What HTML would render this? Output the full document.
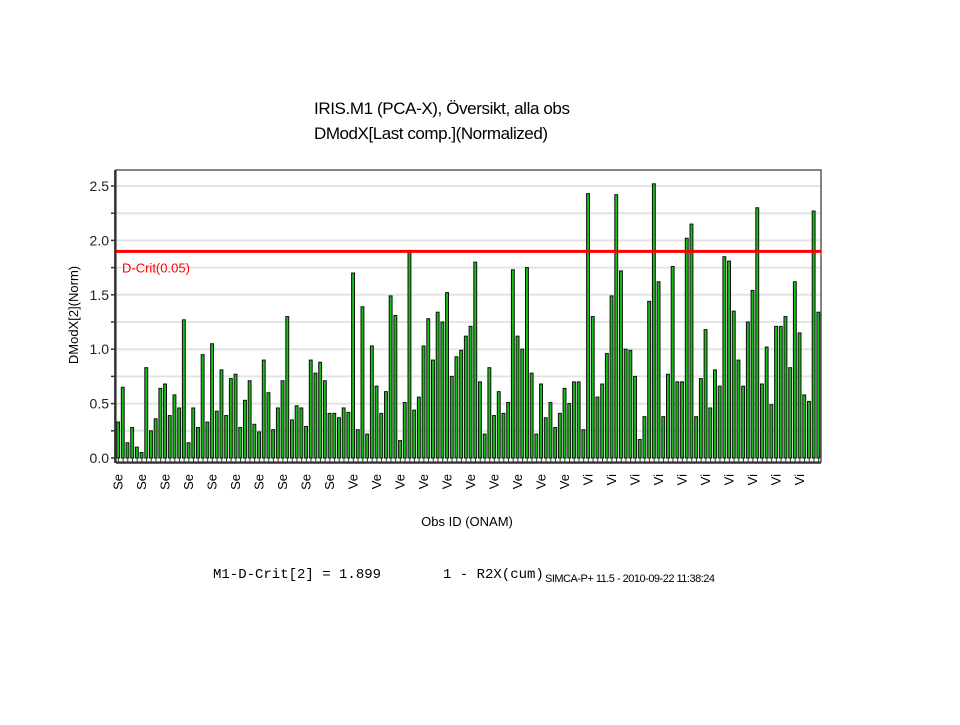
<!DOCTYPE html>
<html><head><meta charset="utf-8"><style>
body{margin:0;background:#fff;width:960px;height:720px;overflow:hidden;font-family:"Liberation Sans",Arial,sans-serif}
</style></head><body>
<svg width="960" height="720" xmlns="http://www.w3.org/2000/svg">
<text x="314" y="114" font-size="17" font-family="Liberation Sans, sans-serif" textLength="256">IRIS.M1 (PCA-X), Översikt, alla obs</text>
<text x="314" y="139" font-size="17" font-family="Liberation Sans, sans-serif" textLength="234">DModX[Last comp.](Normalized)</text>
<g id="grid"></g>
<g id="bars"></g>
<g id="axes"></g>
<text transform="translate(78,315) rotate(-90)" text-anchor="middle" font-size="13">DModX[2](Norm)</text>
<text x="467" y="526" text-anchor="middle" font-size="13">Obs ID (ONAM)</text>
<text x="213" y="578" font-size="14" font-family="Liberation Mono, monospace">M1-D-Crit[2] = 1.899</text>
<text x="443" y="578" font-size="14" font-family="Liberation Mono, monospace">1 - R2X(cum)</text>
<text x="545" y="582" font-size="11" font-family="Liberation Sans, sans-serif" letter-spacing="-0.5">SIMCA-P+ 11.5 - 2010-09-22 11:38:24</text>
</svg>
<script>
const values=[0.33,0.65,0.14,0.28,0.1,0.05,0.83,0.25,0.36,0.64,0.68,0.39,0.58,0.46,1.27,0.14,0.46,0.28,0.95,0.33,1.05,0.43,0.81,0.39,0.73,0.77,0.28,0.53,0.71,0.31,0.24,0.9,0.6,0.26,0.46,0.71,1.3,
0.35,0.48,0.46,0.29,0.9,0.78,0.88,0.71,0.41,0.41,0.37,0.46,0.42,1.7,0.26,1.39,0.22,1.03,0.66,0.41,0.61,1.49,1.31,0.16,0.51,1.89,0.44,0.56,1.03,1.28,0.9,1.34,1.25,1.52,0.75,0.93,0.99,1.12,
1.21,1.8,0.7,0.22,0.83,0.39,0.61,0.41,0.51,1.73,1.12,1.0,1.75,0.78,0.22,0.68,0.37,0.51,0.28,0.41,0.64,0.5,0.7,0.7,0.26,2.43,1.3,0.56,0.68,0.96,1.49,2.42,1.72,1.0,0.99,0.75,0.17,
0.38,1.44,2.52,1.62,0.38,0.77,1.76,0.7,0.7,2.02,2.15,0.38,0.73,1.18,0.46,0.81,0.66,1.85,1.81,1.35,0.9,0.66,1.25,1.54,2.3,0.68,1.02,0.49,1.21,1.21,1.3,0.83,1.62,1.15,0.58,0.52,2.27,1.34];
const yTicks=["0.0","0.5","1.0","1.5","2.0","2.5"];
const dcrit=1.899;
const dcritLabel="D-Crit(0.05)";
const NS="http://www.w3.org/2000/svg";
const L=116,R=821,T=170,Y0=458,UNIT=108.8;
const y=v=>Y0-v*UNIT;
const N=values.length, bw=(R-L)/N;
const x=i=>L+i*bw;
function mk(tag,attrs,parent){const e=document.createElementNS(NS,tag);for(const k in attrs)e.setAttribute(k,attrs[k]);document.getElementById(parent).appendChild(e);return e;}
for(let k=1;k<=10;k++){const g=mk('line',{x1:L,x2:R,y1:y(k*0.25),y2:y(k*0.25),stroke:'#e4e4e4','stroke-width':2},'grid');

}
values.forEach((v,i)=>{const b=mk('rect',{x:x(i)+0.6,y:y(v),width:Math.max(bw-1.8,1),height:Y0-y(v),fill:'#14c014',stroke:'#111','stroke-width':1},'bars');

});
const f=mk('rect',{x:L,y:T,width:R-L,height:Y0-T+4,fill:'none',stroke:'#333','stroke-width':1.2},'axes');


const xa=mk('line',{x1:L,x2:R,y1:Y0+5,y2:Y0+5,stroke:'#333','stroke-width':1.5},'axes');


for(let i=0;i<N;i++){const t=mk('line',{x1:x(i)+bw/2,x2:x(i)+bw/2,y1:Y0,y2:Y0+5,stroke:'#333','stroke-width':1},'axes');

}
const ya=mk('line',{x1:L-1,x2:L-1,y1:T,y2:Y0+5,stroke:'#333','stroke-width':1.8},'axes');


for(let k=0;k<=10;k++){const t=mk('line',{x1:L-5,x2:L-1,y1:y(k*0.25),y2:y(k*0.25),stroke:'#333','stroke-width':1.5},'axes');

}
yTicks.forEach(s=>{const t=mk('text',{x:L-7,y:y(parseFloat(s))+5,'text-anchor':'end','font-size':14,fill:'#222'},'axes');t.textContent=s;

});
const rl=mk('line',{x1:L,x2:R,y1:y(dcrit),y2:y(dcrit),stroke:'#f00','stroke-width':3},'axes');


const rt=mk('text',{x:122,y:y(dcrit)+21,'font-size':13,fill:'#f00'},'axes');rt.textContent=dcritLabel;


for(let i=0;i<N;i+=5){const cat=i<50?'Se':(i<100?'Ve':'Vi');const cx=x(i)+bw/2+4;
const t=mk('text',{transform:`translate(${cx},${Y0+16}) rotate(-90)`,'text-anchor':'end','font-size':13},'axes');t.textContent=cat;

}
</script>
</body></html>
